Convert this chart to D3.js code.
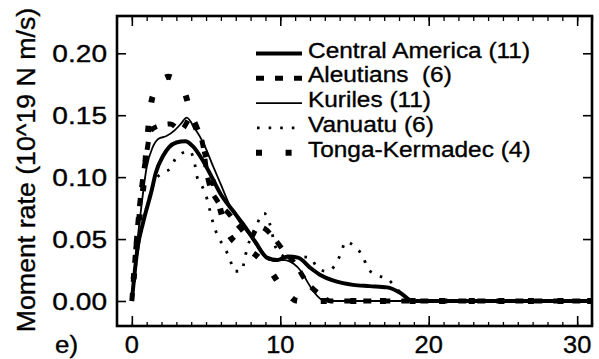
<!DOCTYPE html>
<html>
<head>
<meta charset="utf-8">
<script src="https://cdn.jsdelivr.net/npm/d3@7"></script>
<style>
  body { margin: 0; background: #fff; }
  text { font-family: "Liberation Sans", Arial, Helvetica, sans-serif; fill: #000; stroke: #000; stroke-width: 0.35px; }
</style>
</head>
<body>
<svg id="chart" width="599" height="359"></svg>
<script>
// ---- data (time in s, moment rate in 10^19 N m/s) ----
const xTickLabels = [0, 10, 20, 30];
const yTickLabels = [0.00, 0.05, 0.10, 0.15, 0.20];
const legendNames = ["Central America (11)", "Aleutians  (6)", "Kuriles (11)", "Vanuatu (6)", "Tonga-Kermadec (4)"];

const centralAmerica = [[0,0],[0.4,0.044],[0.75,0.063],[1.35,0.09],[1.6,0.103],[2.1,0.117],[2.5,0.124],[3.0,0.128],[3.6,0.129],[4.1,0.125],[4.7,0.115],[5.3,0.102],[6.0,0.086],[6.8,0.073],[7.5,0.062],[8.3,0.048],[9.1,0.035],[9.8,0.033],[10.5,0.036],[11.2,0.035],[12.0,0.027],[12.7,0.021],[13.7,0.016],[14.9,0.013],[16.0,0.012],[17.2,0.011],[18.1,0.0065],[18.9,0],[31,0]];
const aleutians = [[0,0],[0.5,0.075],[1.0,0.12],[1.3,0.138],[2.0,0.142],[2.6,0.143],[3.3,0.138],[4.0,0.148],[4.4,0.14],[4.8,0.125],[5.1,0.1],[5.8,0.08],[6.5,0.071],[7.3,0.059],[8.0,0.051],[8.5,0.06],[9.0,0.058],[9.5,0.052],[10.2,0.041],[11.0,0.03],[11.8,0.015],[12.7,0.005],[13.4,0],[31,0]];
const kuriles = [[0,0],[0.3,0.04],[0.6,0.072],[1.0,0.108],[1.4,0.124],[1.8,0.131],[2.3,0.133],[2.9,0.138],[3.3,0.143],[3.7,0.148],[4.2,0.14],[4.8,0.128],[5.5,0.108],[6.0,0.094],[6.6,0.077],[7.3,0.063],[8.0,0.052],[8.7,0.04],[9.3,0.033],[10.3,0.033],[10.9,0.03],[11.4,0.024],[12.0,0.012],[12.5,0.004],[13.0,0],[31,0]];
const vanuatu = [[0,0],[0.4,0.042],[1.0,0.076],[1.5,0.096],[2.0,0.103],[2.6,0.107],[3.0,0.116],[3.9,0.121],[4.25,0.11],[4.4,0.1],[4.8,0.091],[5.1,0.081],[5.3,0.071],[5.5,0.062],[5.8,0.052],[6.2,0.044],[6.6,0.034],[6.9,0.024],[7.4,0.024],[7.6,0.034],[7.8,0.044],[8.2,0.055],[8.9,0.071],[9.3,0.062],[9.7,0.043],[10.3,0.036],[11.0,0.036],[12.0,0.035],[12.5,0.027],[13.1,0.024],[13.7,0.029],[14.1,0.039],[14.4,0.048],[15.0,0.044],[15.6,0.035],[15.9,0.026],[16.5,0.021],[17.3,0.017],[18.0,0.008],[19.0,0],[31,0]];
const tongaKermadec = [[0,0],[0.55,0.072],[0.8,0.095],[1.0,0.125],[1.4,0.165],[2.45,0.181],[3.5,0.17],[4.0,0.15],[4.8,0.125],[5.5,0.095],[6.4,0.057],[7.2,0.045],[8.0,0.04],[9.0,0.03],[10.0,0.013],[11.2,0],[31,0]];

const seriesData = [centralAmerica, aleutians, kuriles, vanuatu, tongaKermadec];
const seriesStyle = [
    {width: 4,   dash: null},
    {width: 5,   dash: "8,11"},
    {width: 1.8, dash: null},
    {width: 2.8, dash: "2.6,9"},
    {width: 6,   dash: "6,23.6"}
];

let svg = d3.select("#chart"),
    plot = {left: 117, right: 592, top: 16, bottom: 326};

let x = d3.scaleLinear().domain([-1.0, 31.0]).range([plot.left, plot.right]);
let y = d3.scaleLinear().domain([-0.0202, 0.2301]).range([plot.bottom, plot.top]);

// text helper: real text, stretched a little along its direction
function place(sel, tx, ty, sx, rot) {
    return sel.attr("transform", `translate(${tx},${ty})` + (rot ? ` rotate(${rot})` : "") + ` scale(${sx},1)`);
}

// ---- series ----
let line = d3.line()
    .x(d => x(d[0]))
    .y(d => y(d[1]))
    .curve(d3.curveMonotoneX);

let paths = svg.append("g").attr("class", "series")
    .selectAll("path")
    .data(seriesData)
    .enter().append("path")
    .attr("d", line)
    .attr("fill", "none")
    .attr("stroke", "#000")
    .attr("stroke-width", (d, i) => seriesStyle[i].width)
    .attr("stroke-dasharray", (d, i) => seriesStyle[i].dash)
    .attr("stroke-linejoin", "round");

// put a Tonga-Kermadec square on the peak of its curve
paths.filter((d, i) => i === 4).each(function (d) {
    let len = this.getTotalLength(), best = 0, bestDist = Infinity;
    let peak = d.reduce((a, b) => b[1] > a[1] ? b : a);
    for (let s = 0; s < len; s += 0.5) {
        let p = this.getPointAtLength(s);
        let dist = Math.hypot(p.x - x(peak[0]), p.y - y(peak[1]));
        if (dist < bestDist) { bestDist = dist; best = s; }
    }
    d3.select(this).attr("stroke-dashoffset", 3 - (best % 29.6));
});

// ---- axes (ticks point inward on all four sides) ----
let minorX = d3.range(0, 32, 1);

function clean(g, w) {
    g.select(".domain").remove();
    g.selectAll(".tick line").attr("stroke-width", w);
}

svg.append("g")
    .attr("transform", `translate(0,${plot.bottom})`)
    .call(d3.axisTop(x).tickValues(minorX).tickSize(4).tickFormat(""))
    .call(g => clean(g, 1.3));

svg.append("g")
    .attr("transform", `translate(0,${plot.bottom})`)
    .call(d3.axisTop(x).tickValues(xTickLabels).tickSize(10).tickFormat(""))
    .call(g => clean(g, 1.6));

svg.append("g")
    .attr("transform", `translate(0,${plot.top})`)
    .call(d3.axisBottom(x).tickValues(minorX).tickSize(5).tickFormat(""))
    .call(g => clean(g, 1.3));

svg.append("g")
    .attr("transform", `translate(0,${plot.top})`)
    .call(d3.axisBottom(x).tickValues(xTickLabels).tickSize(10).tickFormat(""))
    .call(g => clean(g, 1.6));

svg.append("g")
    .attr("transform", `translate(${plot.left},0)`)
    .call(d3.axisRight(y).tickValues(yTickLabels).tickSize(9).tickFormat(""))
    .call(g => clean(g, 1.6));

svg.append("g")
    .attr("transform", `translate(${plot.right},0)`)
    .call(d3.axisLeft(y).tickValues(yTickLabels).tickSize(9).tickFormat(""))
    .call(g => clean(g, 1.6));

// frame
svg.append("rect")
    .attr("x", plot.left).attr("y", plot.top)
    .attr("width", plot.right - plot.left).attr("height", plot.bottom - plot.top)
    .attr("fill", "none").attr("stroke", "#000").attr("stroke-width", 2.6);

// tick labels
svg.append("g").selectAll("text")
    .data(xTickLabels)
    .enter().append("text")
    .attr("text-anchor", "middle")
    .style("font-size", "24px")
    .each(function (d) { place(d3.select(this), x(d), 353, 1.06); })
    .text(d => d);

svg.append("g").selectAll("text")
    .data(yTickLabels)
    .enter().append("text")
    .attr("text-anchor", "end")
    .style("font-size", "24px")
    .each(function (d) { place(d3.select(this), 107, y(d) + 8.6, 1.17); })
    .text(d => d3.format(".2f")(d));

place(svg.append("text"), 55, 353, 1.08)
    .style("font-size", "24px")
    .text("e)");

place(svg.append("text"), 35, 170, 1.07, -90)
    .attr("text-anchor", "middle")
    .style("font-size", "25px")
    .text("Moment rate (10^19 N m/s)");

// ---- legend ----
let legend = svg.append("g").attr("class", "legend");
let rowY = i => 53.5 + i * 24.8;

legend.selectAll("path")
    .data(legendNames)
    .enter().append("path")
    .attr("d", (d, i) => `M256,${rowY(i)}H302`)
    .attr("fill", "none")
    .attr("stroke", "#000")
    .attr("stroke-width", (d, i) => seriesStyle[i].width)
    .attr("stroke-dasharray", (d, i) => seriesStyle[i].dash)
    .attr("stroke-dashoffset", (d, i) => i === 3 ? -1 : 0);

legend.selectAll("text")
    .data(legendNames)
    .enter().append("text")
    .style("font-size", "22px")
    .style("white-space", "pre")
    .each(function (d, i) { place(d3.select(this), 308, rowY(i) + 4, 1.11); })
    .text(d => d);
</script>
</body>
</html>
